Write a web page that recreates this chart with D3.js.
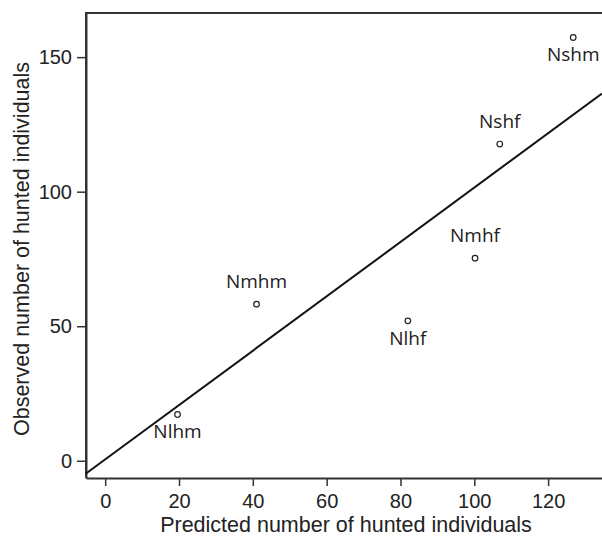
<!DOCTYPE html>
<html>
<head>
<meta charset="utf-8">
<script src="https://cdn.jsdelivr.net/npm/d3@7"></script>
<style>
  body { margin: 0; background: #fff; }
  .tick text { font-family: "Liberation Sans", Arial, sans-serif; font-size: 20px; fill: #222; }
</style>
</head>
<body>
<svg id="chart"></svg>
<script>
// values
var names = ["Nlhm", "Nmhm", "Nlhf", "Nmhf", "Nshf", "Nshm"];
var predicted = [19.6, 41.0, 82.0, 100.2, 106.9, 126.8];
var observed = [17.2, 58.2, 52.0, 75.3, 117.7, 157.3];
var labelBelow = [true, false, true, false, false, true];
var xTicks = [0, 20, 40, 60, 80, 100, 120];
var yTicks = [0, 50, 100, 150];
var fitLine = { intercept: 0.5, slope: 1.01 };

const W = 602, H = 536;
const margin = { top: 13, right: 0, bottom: 58, left: 86 };
const width = W - margin.left - margin.right;
const height = H - margin.top - margin.bottom;

const svg = d3.select('#chart')
  .attr('width', W)
  .attr('height', H)
  .append('g')
  .attr('transform', `translate(${margin.left}, ${margin.top})`);

const xScale = d3.scaleLinear().domain([-5.2, 134.6]).range([0, width]);
const yScale = d3.scaleLinear().domain([-6.4, 166.4]).range([height, 0]);

// frame (top and right edge; right falls off the canvas)
svg.append('path')
  .attr('d', `M0,${height}V0H${width + 1}V${height}`)
  .attr('fill', 'none')
  .attr('stroke', '#333')
  .attr('stroke-width', 2);

const xAxis = svg.append('g')
  .attr('transform', `translate(0, ${height})`)
  .call(d3.axisBottom(xScale).tickValues(xTicks).tickSize(8).tickPadding(8).tickSizeOuter(0));
const yAxis = svg.append('g')
  .call(d3.axisLeft(yScale).tickValues(yTicks).tickSize(9).tickPadding(5).tickSizeOuter(0));

[xAxis, yAxis].forEach(a => {
  a.select('.domain').attr('stroke', '#333').attr('stroke-width', 2);
  a.selectAll('.tick line').attr('stroke', '#333').attr('stroke-width', 1.5);
});

// fitted line across the plot
const x0 = xScale.domain()[0], x1 = xScale.domain()[1];
svg.append('line')
  .attr('x1', xScale(x0)).attr('y1', yScale(fitLine.intercept + fitLine.slope * x0))
  .attr('x2', xScale(x1)).attr('y2', yScale(fitLine.intercept + fitLine.slope * x1))
  .attr('stroke', '#111')
  .attr('stroke-width', 2);

// points
const pts = names.map((n, i) => ({ name: n, x: predicted[i], y: observed[i], below: labelBelow[i] }));
svg.selectAll('circle')
  .data(pts)
  .enter()
  .append('circle')
  .attr('cx', d => xScale(d.x))
  .attr('cy', d => yScale(d.y))
  .attr('r', 2.8)
  .attr('fill', '#fff')
  .attr('stroke', '#222')
  .attr('stroke-width', 1.2);

svg.selectAll('.lab')
  .data(pts)
  .enter()
  .append('text')
  .attr('class', 'lab')
  .attr('x', d => xScale(d.x))
  .attr('y', d => yScale(d.y) + (d.below ? 24 : -16))
  .attr('text-anchor', 'middle')
  .style('font-family', '"Open Sans", sans-serif')
  .style('font-size', '19px')
  .style('fill', '#222')
  .text(d => d.name);

// axis titles
svg.append('text')
  .attr('x', 260)
  .attr('y', height + 54)
  .style('text-anchor', 'middle')
  .style('font-family', '"Liberation Sans", Arial, sans-serif')
  .style('font-size', '21.5px')
  .style('fill', '#222')
  .text('Predicted number of hunted individuals');

svg.append('text')
  .attr('transform', 'rotate(-90)')
  .attr('x', -236)
  .attr('y', -57.5)
  .style('text-anchor', 'middle')
  .style('font-family', '"Liberation Sans", Arial, sans-serif')
  .style('font-size', '21.5px')
  .style('fill', '#222')
  .text('Observed number of hunted individuals');
</script>
</body>
</html>
